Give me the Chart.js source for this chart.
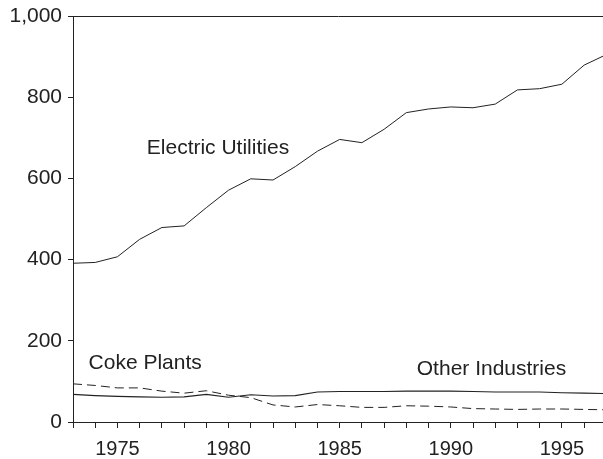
<!DOCTYPE html>
<html>
<head>
<meta charset="utf-8">
<script src="https://cdn.jsdelivr.net/npm/chart.js@4/dist/chart.umd.min.js"></script>
<style>
html,body{margin:0;padding:0;background:#fff;}
#wrap{width:603px;height:459px;overflow:hidden;}
</style>
</head>
<body>
<div id="wrap"><canvas id="c" width="603" height="459"></canvas></div>
<script>
const years = [1973,1974,1975,1976,1977,1978,1979,1980,1981,1982,1983,1984,1985,1986,1987,1988,1989,1990,1991,1992,1993,1994,1995,1996,1997];
const electricUtilities = [391,393,407,450,479,483,528,571,599,596,629,667,696,688,721,762,771,776,774,783,818,821,832,879,905];
const cokePlants = [94,90,84,84,76,71,77,66,60,42,37,43,40,36,36,40,39,37,33,32,31,32,32,31,30];
const otherIndustries = [68,65,63,62,61,62,68,61,67,64,65,74,75,75,75,76,76,76,75,74,74,74,72,71,70];
const yTicks = [0,200,400,600,800,1000];
const xLabelYears = [1975,1980,1985,1990,1995];
const annotations = [
  {text:'Electric Utilities', x:1976.32, y:660},
  {text:'Coke Plants', x:1973.70, y:131},
  {text:'Other Industries', x:1988.47, y:115}
];

const INK = '#222';
const FONT = '"Liberation Sans", Arial, sans-serif';

const toPts = arr => years.map((yr,i)=>({x:yr,y:arr[i]}));

const annotPlugin = {
  id:'annot',
  afterDatasetsDraw(chart){
    const {ctx, scales:{x,y}} = chart;
    ctx.save();
    ctx.fillStyle = INK;
    ctx.font = '21px ' + FONT;
    ctx.textAlign = 'left';
    ctx.textBaseline = 'alphabetic';
    annotations.forEach(a=>{
      ctx.fillText(a.text, x.getPixelForValue(a.x), y.getPixelForValue(a.y));
    });
    ctx.restore();
  }
};

new Chart(document.getElementById('c'), {
  type:'line',
  data:{
    datasets:[
      {label:'Electric Utilities', data:toPts(electricUtilities), borderColor:INK, borderWidth:1, pointRadius:0, tension:0, fill:false},
      {label:'Coke Plants', data:toPts(cokePlants), borderColor:INK, borderWidth:1, borderDash:[9,5], pointRadius:0, tension:0, fill:false},
      {label:'Other Industries', data:toPts(otherIndustries), borderColor:INK, borderWidth:1.1, pointRadius:0, tension:0, fill:false}
    ]
  },
  options:{
    responsive:false,
    animation:false,
    devicePixelRatio:1,
    layout:{padding:{top:16,right:0,left:0,bottom:0}},
    plugins:{legend:{display:false}, tooltip:{enabled:false}},
    scales:{
      x:{
        type:'linear',
        min:1973, max:1996.85,
        afterBuildTicks(scale){
          const t=[]; for(let v=1973; v<=1996; v++) t.push({value:v});
          scale.ticks=t;
        },
        afterFit(scale){ scale.height = 37; scale.paddingLeft = 0; scale.paddingRight = 0; },
        ticks:{
          autoSkip:false, maxRotation:0, padding:9,
          color:INK, font:{family:FONT, size:20},
          callback:(v)=> xLabelYears.includes(v) ? String(v) : ''
        },
        grid:{drawOnChartArea:false, tickLength:6, tickColor:INK, color:INK},
        border:{display:true, color:INK, width:1}
      },
      y:{
        min:0, max:1000,
        afterBuildTicks(scale){ scale.ticks = yTicks.map(v=>({value:v})); },
        afterFit(scale){ scale.width = 73; scale.paddingTop = 0; scale.paddingBottom = 0; },
        ticks:{
          padding:6, color:INK, font:{family:FONT, size:21},
          callback:(v)=> v.toLocaleString('en-US')
        },
        grid:{
          drawOnChartArea:true, tickLength:5, tickColor:INK,
          color:(c)=> (c.tick && c.tick.value===1000) ? INK : 'rgba(0,0,0,0)'
        },
        border:{display:true, color:INK, width:1}
      }
    }
  },
  plugins:[annotPlugin]
});
</script>
</body>
</html>
